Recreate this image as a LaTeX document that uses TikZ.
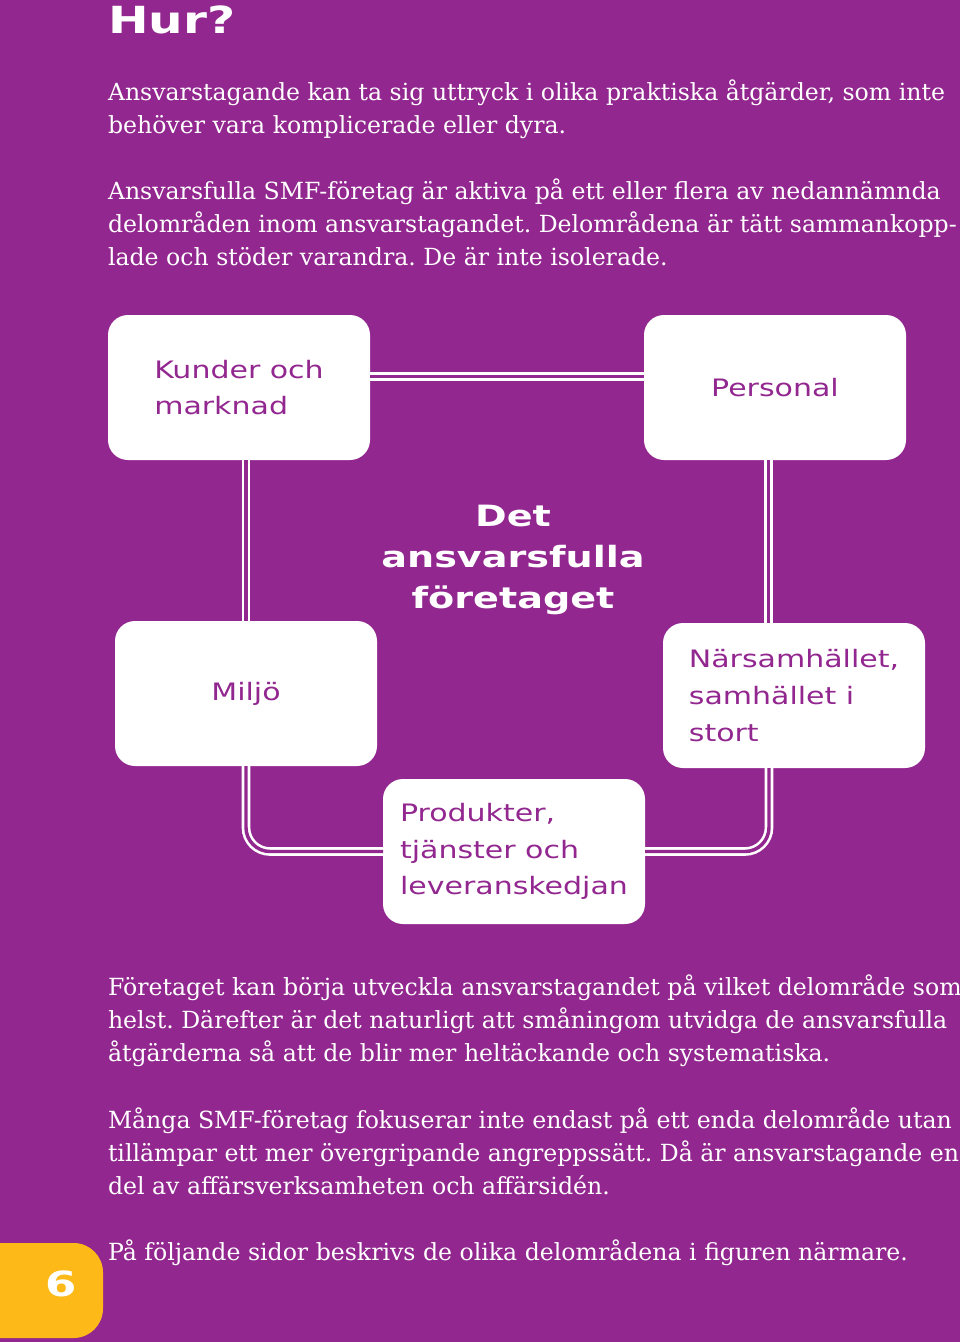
\documentclass[tikz,border=0pt]{standalone}
\usepackage{fontspec}
\setmainfont{DejaVu Serif}
\newfontfamily\boxfont{DejaVu Sans}[FakeStretch=1.25]
\newfontfamily\headfont{DejaVu Sans}[FakeStretch=1.3]
\definecolor{bgpurple}{RGB}{146,39,143}
\definecolor{tabyellow}{RGB}{252,185,24}
\frenchspacing

\begin{document}
\begin{tikzpicture}[x=0.75pt,y=-0.75pt,inner sep=0pt,outer sep=0pt,
    box/.style={fill=white,rounded corners=15pt,anchor=north west,
        minimum width=196.5pt,minimum height=108.75pt,align=left,
        text=bgpurple,font=\boxfont\fontsize{18}{27.5}\selectfont},
    link/.style={draw=white,line width=1.95pt,double=bgpurple,double distance=2.6pt},
    para/.style={anchor=base west,align=left,text=white,
        font=\fontsize{17.7}{24.75}\selectfont}]
    % page
    \fill[bgpurple] (0,0) rectangle (960,1342);
    \useasboundingbox (0,0) rectangle (960,1342);

    % heading and intro (para nodes sit on the baseline of their last line)
    \node[anchor=base west,text=white,font=\headfont\bfseries\fontsize{28}{28}\selectfont] (hur) at (108,33) {Hur?};
    \node[para] (intro_a) at (108,133)
    {Ansvarstagande kan ta sig uttryck i olika praktiska åtgärder, som inte\\
     behöver vara komplicerade eller dyra.};
    \node[para] (intro_b) at (108,265)
    {Ansvarsfulla SMF-företag är aktiva på ett eller flera av nedannämnda\\
     delområden inom ansvarstagandet. Delområdena är tätt sammankopp-\\
     lade och stöder varandra. De är inte isolerade.};

    % areas
    \node[box] (kunder) at (108,315) {Kunder och\\marknad};
    \node[box] (personal) at (644,315) {Personal};
    \node[box] (miljo) at (115,621) {Miljö};
    \node[box] (nars) at (663,623) {Närsamhället,\\samhället i\\stort};
    \node[box] (produkter) at (383,779) {Produkter,\\tjänster och\\leveranskedjan};

    \node[align=center,text=white,font=\headfont\bfseries\fontsize{22}{30.75}\selectfont] (titel) at (513,560)
    {Det\\ansvarsfulla\\företaget};

    % links between areas
    \coordinate (rtop) at ([xshift=-4.9pt]personal.south);
    \draw[link] ([yshift=8.25pt]kunder.east) -- ([yshift=8.25pt]personal.west);
    \draw[link] (miljo.north |- kunder.south) -- (miljo.north);
    \draw[link] (rtop) -- (rtop |- nars.north);
    \draw[link,rounded corners=18pt] (miljo.south) |- (produkter.west);
    \draw[link,rounded corners=18pt] ([xshift=-18.75pt]nars.south) |- (produkter.east);

    % closing text
    \node[para] (outro_a) at (108,1061)
    {Företaget kan börja utveckla ansvarstagandet på vilket delområde som\\
     helst. Därefter är det naturligt att småningom utvidga de ansvarsfulla\\
     åtgärderna så att de blir mer heltäckande och systematiska.};
    \node[para] (outro_b) at (108,1194)
    {Många SMF-företag fokuserar inte endast på ett enda delområde utan\\
     tillämpar ett mer övergripande angreppssätt. Då är ansvarstagande en\\
     del av affärsverksamheten och affärsidén.};
    \node[para] (outro_c) at (108,1260)
    {På följande sidor beskrivs de olika delområdena i figuren närmare.};

    % page number
    \node[fill=tabyellow,rounded corners=22pt,anchor=north east,
        minimum width=99.75pt,minimum height=71.25pt] (tab) at (103,1243) {};
    \node[text=white,font=\headfont\bfseries\fontsize{26}{26}\selectfont] (sidnr) at (61,1284) {6};
\end{tikzpicture}
\end{document}
